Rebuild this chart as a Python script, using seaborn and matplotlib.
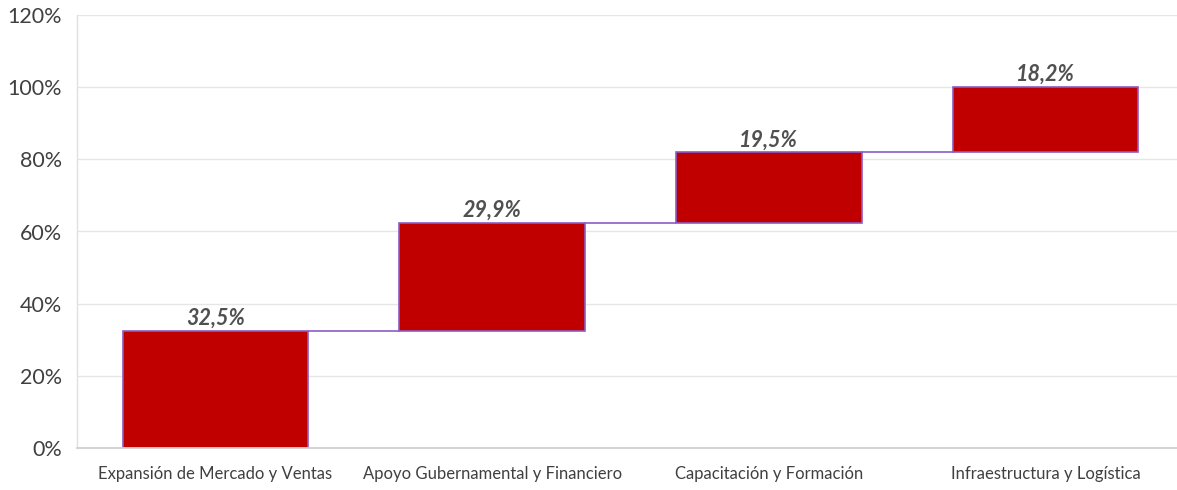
import matplotlib
matplotlib.use("Agg")
import matplotlib.pyplot as plt
import seaborn as sns
import numpy as np
import pandas as pd

categories = ["Expansión de Mercado y Ventas", "Apoyo Gubernamental y Financiero",
              "Capacitación y Formación", "Infraestructura y Logística"]
values = [32.5, 29.9, 19.5, 18.2]
value_labels = ["32,5%", "29,9%", "19,5%", "18,2%"]
ytick_values = [0, 20, 40, 60, 80, 100, 120]
ytick_labels = ["0%", "20%", "40%", "60%", "80%", "100%", "120%"]

sns.set_theme(style="white")
plt.rcParams["font.family"] = ["Lato", "DejaVu Sans"]

vals = np.array(values)
ends = np.cumsum(vals)
starts = ends - vals
df = pd.DataFrame({"cat": categories, "val": vals, "start": starts, "end": ends})

fig = plt.figure(figsize=(11.77, 4.90), dpi=100)
W, H = 1177, 490
ax = fig.add_axes([77 / W, (H - 448) / H, (1184 - 77) / W, (448 - 15) / H])

sns.barplot(data=df, x="cat", y="val", bottom=df["start"], color="#C00000",
            saturation=1, width=0.67, edgecolor="#8C5CC4", linewidth=1.2, ax=ax)

ax.set_ylim(0, 120)
ax.set_xlim(-0.5, 3.5)
ax.set_yticks(ytick_values)
ax.set_yticklabels(ytick_labels, fontsize=15.5, color="#404040")
ax.yaxis.grid(True, color="#E6E6E6", linewidth=1)
ax.set_axisbelow(True)
ax.set_xlabel("")
ax.set_ylabel("")
ax.tick_params(axis="x", labelsize=12, colors="#404040", pad=13, length=0)
ax.tick_params(axis="y", pad=11, length=0)
for s in ["top", "right"]:
    ax.spines[s].set_visible(False)
ax.spines["left"].set_color("#E0E0E0")
ax.spines["bottom"].set_color("#D0D0D0")
ax.spines["left"].set_linewidth(1)
ax.spines["bottom"].set_linewidth(1.3)

bw = 0.67
for i in range(len(vals) - 1):
    ax.plot([i + bw / 2, i + 1 - bw / 2], [ends[i], ends[i]], color="#8C5CC4", linewidth=1.2, zorder=3)

for i, lab in enumerate(value_labels):
    ax.text(i, ends[i] + 0.5, lab, ha="center", va="bottom", fontsize=15.5,
            fontweight="bold", fontstyle="italic", color="#505050")

fig.savefig("out.png", dpi=100)
